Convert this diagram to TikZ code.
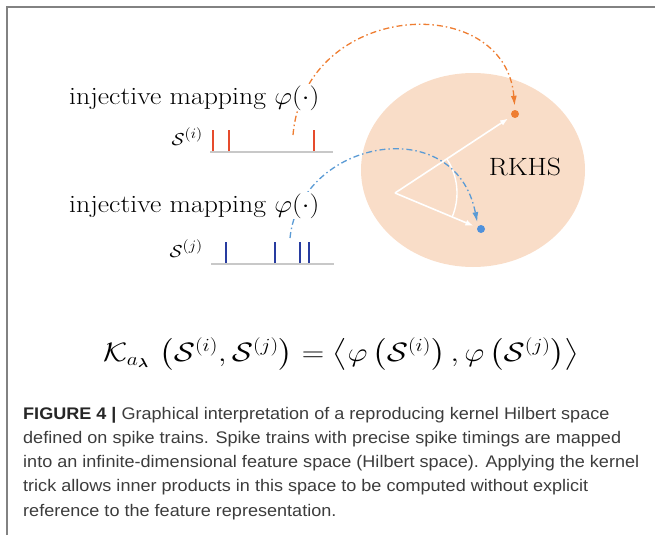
\documentclass[tikz,border=0pt]{standalone}
\usepackage{amsmath}
\usepackage{fontspec}
\newfontfamily\capfont[FakeStretch=1.075]{Liberation Sans}
\usetikzlibrary{arrows.meta}
\definecolor{peach}{RGB}{249,221,200}
\definecolor{arcorange}{RGB}{238,125,49}
\definecolor{arcblue}{RGB}{91,155,213}
\definecolor{dotblue}{RGB}{79,145,220}
\definecolor{spikered}{RGB}{230,75,45}
\definecolor{spikeblue}{RGB}{40,60,160}
\definecolor{basegray}{RGB}{200,200,200}
\definecolor{framegray}{RGB}{130,130,130}
\definecolor{captext}{RGB}{60,60,60}
\newcommand{\wide}[1]{\scalebox{1.11}[1]{#1}}
\tikzset{
  maptext/.style={font=\fontsize{25}{30}\selectfont, fill=white, inner sep=1pt, anchor=base west},
  spikelabel/.style={font=\fontsize{19}{23}\selectfont, inner sep=0pt, anchor=base east},
  baseline line/.style={draw=basegray, line width=2pt},
  redspike/.style={draw=spikered, line width=1.6pt},
  bluespike/.style={draw=spikeblue, line width=1.6pt},
  maparc/.style={line width=1.3pt, dash pattern=on 6pt off 3pt on 1.5pt off 3pt, -{Latex[length=10pt,width=6pt]}},
  vec/.style={draw=white, line width=1.6pt, -{Latex[length=8pt,width=6pt]}},
  featdot/.style={circle, inner sep=0pt, minimum size=8pt},
  capline/.style={font=\capfont\fontsize{16.8}{20}\selectfont, text=captext, inner sep=0pt, anchor=base west}
}
\begin{document}
\begin{tikzpicture}[x=1pt,y=-1pt]
\useasboundingbox (0,0) rectangle (655,535);
% frame
\draw[framegray, line width=1.5pt] (7,535) -- (7,7) -- (655,7);
% RKHS space
\fill[peach] (473,170) ellipse [x radius=112, y radius=97];
\node[font=\fontsize{25}{30}\selectfont, inner sep=0pt] (rkhs) at (525,167) {\wide{RKHS}};
% feature points
\node[featdot, fill=arcorange] (pi) at (515,114) {};
\node[featdot, fill=dotblue] (pj) at (481,229) {};
\coordinate (o) at (395,193);
\draw[vec, shorten >=4pt] (o) -- (pi);
\draw[vec, shorten >=4pt] (o) -- (pj);
\draw[white, line width=1.4pt] (o) ++(-33.4:62) arc[start angle=-33.4, end angle=22.7, radius=62];
% mapping arcs
\coordinate (si) at (293,135);
\coordinate (sj) at (290,238);
\draw[maparc, arcorange, shorten >=4pt] (si) .. controls (305,0) and (505,-10) .. (pi.north);
\draw[maparc, arcblue, shorten >=4pt] (sj) .. controls (300,140) and (455,110) .. (pj.north west);
% labels
\node[maptext] (mi) at (68,104) {\wide{injective mapping $\varphi(\cdot)$}};
\node[maptext] (mj) at (68,212) {\wide{injective mapping $\varphi(\cdot)$}};
% spike train i
\node[spikelabel] (li) at (203,145) {\wide{$\mathcal{S}^{(i)}$}};
\coordinate (ai) at (210,152);
\coordinate (bi) at (333,152);
\draw[baseline line] (ai) -- (bi);
\foreach \x in {213,229,314} \draw[redspike] (\x,151) -- (\x,130);
% spike train j
\node[spikelabel] (lj) at (203,257) {\wide{$\mathcal{S}^{(j)}$}};
\coordinate (aj) at (211,264);
\coordinate (bj) at (334,264);
\draw[baseline line] (aj) -- (bj);
\foreach \x in {226,275,300,309} \draw[bluespike] (\x,263) -- (\x,242);
% equation
\node[font=\fontsize{25}{30}\selectfont, inner sep=0pt, anchor=west] (eq) at (103,354)
  {\scalebox{1.25}[1.07]{$\mathcal{K}_{a_{\boldsymbol{\lambda}}}\,\left(\mathcal{S}^{(i)},\mathcal{S}^{(j)}\right)=\left\langle\varphi\left(\mathcal{S}^{(i)}\right),\varphi\left(\mathcal{S}^{(j)}\right)\right\rangle$}};
% caption
\node[capline] (c1) at (23,419.3) {{\bfseries\color{black!85}FIGURE 4 |} Graphical interpretation of a reproducing kernel Hilbert space};
\node[capline] (c2) at (23,443.5) {defined on spike trains. Spike trains with precise spike timings are mapped};
\node[capline] (c3) at (23,467.7) {into an infinite-dimensional feature space (Hilbert space). Applying the kernel};
\node[capline] (c4) at (23,491.9) {trick allows inner products in this space to be computed without explicit};
\node[capline] (c5) at (23,516) {reference to the feature representation.};
\end{tikzpicture}
\end{document}
